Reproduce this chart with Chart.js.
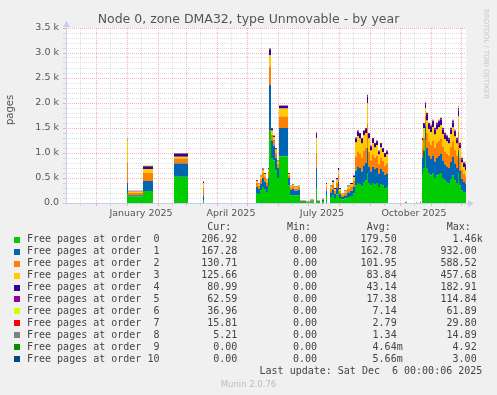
<!DOCTYPE html>
<html><head><meta charset="utf-8">
<script src="https://cdn.jsdelivr.net/npm/chart.js@4/dist/chart.umd.min.js"></script>
<style>
html,body{margin:0;padding:0;background:#F0F0F0;}
#wrap{position:relative;width:497px;height:395px;overflow:hidden;background:#F0F0F0;}
#c{position:absolute;left:0;top:0;}
.t{position:absolute;white-space:pre;font-family:"DejaVu Sans Mono",monospace;font-size:10px;line-height:12px;color:#444;}
.sq{position:absolute;width:6px;height:6px;}
</style></head><body>
<div id="wrap"><canvas id="c" width="497" height="395"></canvas></div>
<script>
// ---- data (day index from 1 Nov 2024; 1 px per day) ----
const days = [0,61,62,77,87,108,122,137,138,190, 192,194,196,198,200,202,203,205,207,209, 211,213,222,224,226,228,232,234,240,244, 248,250,251,254,256,258,260,261,264,266, 268,270,272,273,275,278,281,284,287,289, 291,293,295,297,299,301,302,304,306,308, 310,312,314,316,318,320,322,339,341,350, 351,354,355,356,357,359,360,362,364,366, 368,370,372,374,376,378,380,382,384,386, 388,390,392,393,395,397,399,400];
const order0 = [0,200,130,240,0,527,0,50,0,200, 180,250,320,280,220,330,1460,900,850,650, 500,930,350,150,160,150,160,20,15,30, 0,300,20,0,40,0,150,0,120,150, 100,170,250,100,70,90,120,140,190,350, 400,380,330,420,450,600,400,350,400,380, 400,320,380,350,300,320,0,10,0,5, 0,10,0,600,700,1250,700,600,550,600, 500,550,580,600,500,450,420,400,480,550, 450,400,600,350,250,220,210,207];
const order1 = [0,200,25,200,0,265,0,100,0,120, 100,140,180,150,120,180,900,350,300,250, 200,570,150,110,120,100,110,15,10,20, 0,400,15,0,25,0,100,0,90,120, 80,130,180,80,50,60,90,100,140,300, 330,320,300,330,350,500,330,280,320,300, 300,260,300,280,260,270,0,10,0,5, 0,10,0,300,350,300,400,350,330,350, 330,350,360,380,350,320,300,300,340,370, 340,300,450,300,230,200,180,167];
const order2 = [0,400,45,160,0,100,0,150,0,80, 60,90,110,100,75,110,370,120,110,110, 80,230,50,50,55,45,50,10,8,15, 0,300,10,0,20,0,80,0,70,90, 60,100,140,60,40,50,70,80,110,280, 300,290,280,300,300,480,290,220,250,230, 240,200,230,210,190,200,0,5,0,5, 0,10,0,200,250,200,300,280,280,300, 280,300,300,310,280,260,260,250,300,310, 280,250,380,250,180,160,140,131];
const order3 = [0,450,30,80,0,35,0,100,0,40, 35,50,55,50,40,55,230,80,60,60, 50,160,30,25,30,25,30,10,5,10, 0,300,10,0,10,0,50,0,50,60, 40,70,90,40,30,35,50,55,80,280, 310,300,280,300,300,420,270,200,230,200, 220,190,200,180,170,180,0,5,0,5, 0,10,0,150,200,150,250,250,260,270, 260,270,280,270,250,250,250,240,260,280, 260,240,300,200,150,140,130,126];
const order4 = [0,10,10,50,0,60,0,30,0,15, 10,15,20,15,10,20,110,40,25,25, 15,50,15,10,10,8,8,5,2,5, 0,80,5,0,5,0,20,0,20,30, 20,30,40,20,10,15,20,25,30,80, 90,90,90,90,90,130,90,80,80,70, 70,60,70,60,60,60,0,0,0,0, 0,0,0,50,80,80,110,100,100,100, 100,100,100,110,90,90,90,80,90,100, 90,80,120,70,60,60,70,81];
const order5 = [0,5,3,10,0,5,0,0,0,5, 5,5,5,5,5,5,15,10,5,5, 5,10,5,5,5,2,2,0,0,0, 0,30,0,0,0,0,0,0,0,0, 0,0,0,0,0,0,0,0,0,20, 20,20,20,10,10,30,20,20,20,20, 20,20,20,20,20,20,0,0,0,0, 0,0,0,0,20,30,40,20,30,30, 30,30,30,30,30,30,30,30,30,40, 30,30,50,30,30,30,50,63];
const order6 = [0,20,0,8,0,3,0,0,0,0, 0,0,0,0,0,0,5,0,0,0, 0,0,0,0,0,0,0,0,0,0, 0,20,0,0,0,0,0,0,0,0, 0,0,0,0,0,0,0,0,0,5, 5,5,5,5,5,10,5,5,5,5, 5,5,5,5,5,5,0,0,0,0, 0,0,0,0,5,10,15,10,10,10, 10,10,10,10,10,10,10,10,10,15, 10,10,20,15,15,15,25,37];
const order7 = [0,5,0,3,0,5,0,0,0,0, 0,0,0,0,0,0,0,0,0,0, 0,0,0,0,0,0,0,0,0,0, 0,0,0,0,0,0,0,0,0,0, 0,0,0,0,0,0,0,0,0,0, 0,0,0,0,0,5,0,0,0,0, 0,0,0,0,0,0,0,0,0,0, 0,0,0,0,0,5,5,5,5,5, 5,5,5,5,5,5,5,5,5,5, 5,5,10,5,5,5,10,16];
const order8 = [0,10,0,2,0,0,0,0,0,0, 0,0,0,0,0,0,0,0,0,0, 0,0,0,0,0,0,0,0,0,0, 0,0,0,0,0,0,0,0,0,0, 0,0,0,0,0,0,0,0,0,0, 0,0,0,0,0,0,0,0,0,0, 0,0,0,0,0,0,0,0,0,0, 0,0,0,0,0,2,2,2,2,2, 2,2,2,2,2,2,2,2,2,2, 2,2,5,2,2,2,3,5];
const order9 = [0,0,0,0,0,0,0,0,0,0, 0,0,0,0,0,0,5,0,0,0, 0,0,0,0,0,0,0,0,0,0, 0,0,0,0,0,0,0,0,0,0, 0,0,0,0,0,0,0,0,0,0, 0,0,0,0,0,0,0,0,0,0, 0,0,0,0,0,0,0,0,0,0, 0,0,0,0,0,0,0,0,0,0, 0,0,0,0,0,0,0,0,0,0, 0,0,0,0,0,0,0,0];
const order10 = [0,0,0,0,0,0,0,0,0,0, 0,0,0,0,0,0,3,0,0,0, 0,0,0,0,0,0,0,0,0,0, 0,0,0,0,0,0,0,0,0,0, 0,0,0,0,0,0,0,0,0,0, 0,0,0,0,0,0,0,0,0,0, 0,0,0,0,0,0,0,0,0,0, 0,0,0,0,0,0,0,0,0,0, 0,0,0,0,0,0,0,0,0,0, 0,0,0,0,0,0,0,0];

const seriesNames = ["Free pages at order  0","Free pages at order  1","Free pages at order  2","Free pages at order  3","Free pages at order  4","Free pages at order  5","Free pages at order  6","Free pages at order  7","Free pages at order  8","Free pages at order  9","Free pages at order 10"];
const curVals = ["206.92","167.28","130.71","125.66","80.99","62.59","36.96","15.81","5.21","0.00","0.00"];
const minVals = ["0.00","0.00","0.00","0.00","0.00","0.00","0.00","0.00","0.00","0.00","0.00"];
const avgVals = ["179.50 ","162.78 ","101.95 ","83.84 ","43.14 ","17.38 ","7.14 ","2.79 ","1.34 ","4.64m","5.66m"];
const maxVals = ["1.46k","932.00 ","588.52 ","457.68 ","182.91 ","114.84 ","61.89 ","29.80 ","14.89 ","4.92 ","3.00 "];
const monthStarts = [30,61,92,120,151,181,212,242,273,304,334,365,395];
const midMonths = [14,44,75,106,134,165,195,226,256,287,318,348,379];
const monthLabels = {75:"January 2025",165:"April 2025",256:"July 2025",348:"October 2025"};
const yTickLabels = {0:"0.0",500:"0.5 k",1000:"1.0 k",1500:"1.5 k",2000:"2.0 k",2500:"2.5 k",3000:"3.0 k",3500:"3.5 k"};

const colors = ["#00CC00","#0066B3","#FF8000","#FFCC00","#330099","#990099","#CCFF00","#FF0000","#808080","#008F00","#00487D"];
const allSeries = [order0,order1,order2,order3,order4,order5,order6,order7,order8,order9,order10];

const MAJOR = "rgba(236,130,130,0.6)";
const MINOR = "rgba(180,180,180,0.45)";
const AXIS = "#C8CCF2";

const datasets = allSeries.map((arr,i)=>({
  label: seriesNames[i],
  data: days.map((d,j)=>({x:d,y:arr[j]})),
  backgroundColor: colors[i],
  borderColor: 'rgba(0,0,0,0)',
  borderWidth: 0,
  pointRadius: 0,
  stepped: true,
  fill: i===0 ? 'origin' : '-1'
}));

const deco = {
  id:'deco',
  beforeDraw(chart){
    const {ctx, chartArea:a} = chart;
    ctx.save(); ctx.fillStyle='#FFFFFF';
    ctx.fillRect(a.left, a.top, a.right-a.left, a.bottom-a.top);
    ctx.restore();
  },
  afterDraw(chart){
    const {ctx, chartArea:a} = chart;
    ctx.save();
    ctx.strokeStyle = AXIS; ctx.fillStyle = AXIS; ctx.lineWidth = 1;
    ctx.beginPath();
    ctx.moveTo(a.left+0.5, a.bottom+0.5); ctx.lineTo(a.left+0.5, a.top-4);
    ctx.moveTo(a.left-2, a.bottom+0.5); ctx.lineTo(a.right+4, a.bottom+0.5);
    ctx.stroke();
    ctx.beginPath();
    ctx.moveTo(a.left+0.5, a.top-7); ctx.lineTo(a.left-3, a.top-1); ctx.lineTo(a.left+4, a.top-1); ctx.closePath(); ctx.fill();
    ctx.beginPath();
    ctx.moveTo(a.right+8, a.bottom+0.5); ctx.lineTo(a.right+2, a.bottom-3); ctx.lineTo(a.right+2, a.bottom+4); ctx.closePath(); ctx.fill();
    ctx.restore();
  }
};

new Chart(document.getElementById('c'), {
  type:'line',
  data:{datasets},
  options:{
    responsive:false, animation:false, devicePixelRatio:1,
    layout:{padding:{left:0, top:28, right:31, bottom:172}},
    plugins:{legend:{display:false}, tooltip:{enabled:false}, title:{display:false}},
    elements:{line:{tension:0}},
    scales:{
      x:{
        type:'linear', min:0, max:400,
        afterBuildTicks(s){ s.ticks = monthStarts.concat(midMonths).sort((a,b)=>a-b).map(v=>({value:v})); },
        afterFit(s){ s.height = 20; },
        ticks:{autoSkip:false, maxRotation:0, padding:2, color:'#555',
          font:{family:'DejaVu Sans', size:9.5},
          callback:(v)=> monthLabels[v] || ''},
        grid:{color:(c)=> monthStarts.includes(c.tick && c.tick.value) ? MAJOR : MINOR, tickLength:3, lineWidth:1},
        border:{display:false, dash:[1,1]}
      },
      y:{
        stacked:true, min:0, max:3500,
        afterFit(s){ s.width = 66; },
        ticks:{stepSize:100, autoSkip:false, padding:4, color:'#555',
          font:{family:'DejaVu Sans', size:9.5},
          callback:(v)=> (v in yTickLabels) ? yTickLabels[v] : ''},
        grid:{color:(c)=> (c.tick && c.tick.value % 500 === 0) ? MAJOR : MINOR, tickLength:3, lineWidth:1},
        border:{display:false, dash:[1,1]}
      }
    }
  },
  plugins:[deco]
});

// ---- texts ----
const wrap = document.getElementById('wrap');
function addText(txt, css, cls){
  const e = document.createElement('div'); e.className = cls || 't'; e.textContent = txt;
  Object.assign(e.style, css); wrap.appendChild(e); return e;
}
addText("Node 0, zone DMA32, type Unmovable - by year",
  {left:'0px', width:'497px', top:'11px', textAlign:'center', fontFamily:'DejaVu Sans', fontSize:'12.5px', lineHeight:'16px', color:'#555'});
addText("pages", {left:'-10px', top:'104px', width:'40px', textAlign:'center', fontFamily:'DejaVu Sans', fontSize:'10px', lineHeight:'12px', color:'#555', transform:'rotate(-90deg)'});
addText("RRDTOOL / TOBI OETIKER", {left:'435px', top:'49px', width:'102px', textAlign:'center', fontFamily:'DejaVu Sans', fontSize:'7px', lineHeight:'10px', color:'#C8C8C8', transform:'rotate(90deg)'});

function rowTop(cy){ return (cy - 6.5) + 'px'; }
const headY = 227.7;
[["Cur:",237.3],["Min:",317],["Avg:",396.7],["Max:",476.7]].forEach(([h,r])=>{
  addText(h, {left:(r-6-24)+'px', top:rowTop(headY)});
});
seriesNames.forEach((n,i)=>{
  const cy = 239.7 + 11.95*i;
  const sq = document.createElement('div'); sq.className='sq';
  Object.assign(sq.style,{left:'14px', top:(cy-3)+'px', background:colors[i]}); wrap.appendChild(sq);
  addText(n, {left:'27px', top:rowTop(cy)});
  addText(curVals[i], {left:'137.3px', width:'100px', top:rowTop(cy), textAlign:'right'});
  addText(minVals[i], {left:'217px', width:'100px', top:rowTop(cy), textAlign:'right'});
  addText(avgVals[i], {left:'302.7px', width:'100px', top:rowTop(cy), textAlign:'right'});
  addText(maxVals[i], {left:'382.7px', width:'100px', top:rowTop(cy), textAlign:'right'});
});
addText("Last update: Sat Dec  6 00:00:06 2025", {left:'182.3px', width:'300px', top:rowTop(371.3), textAlign:'right'});
addText("Munin 2.0.76", {left:'0px', width:'497px', top:'378px', textAlign:'center', fontFamily:'DejaVu Sans', fontSize:'8.5px', lineHeight:'12px', color:'#BBBBBB'});
</script>
</body></html>
